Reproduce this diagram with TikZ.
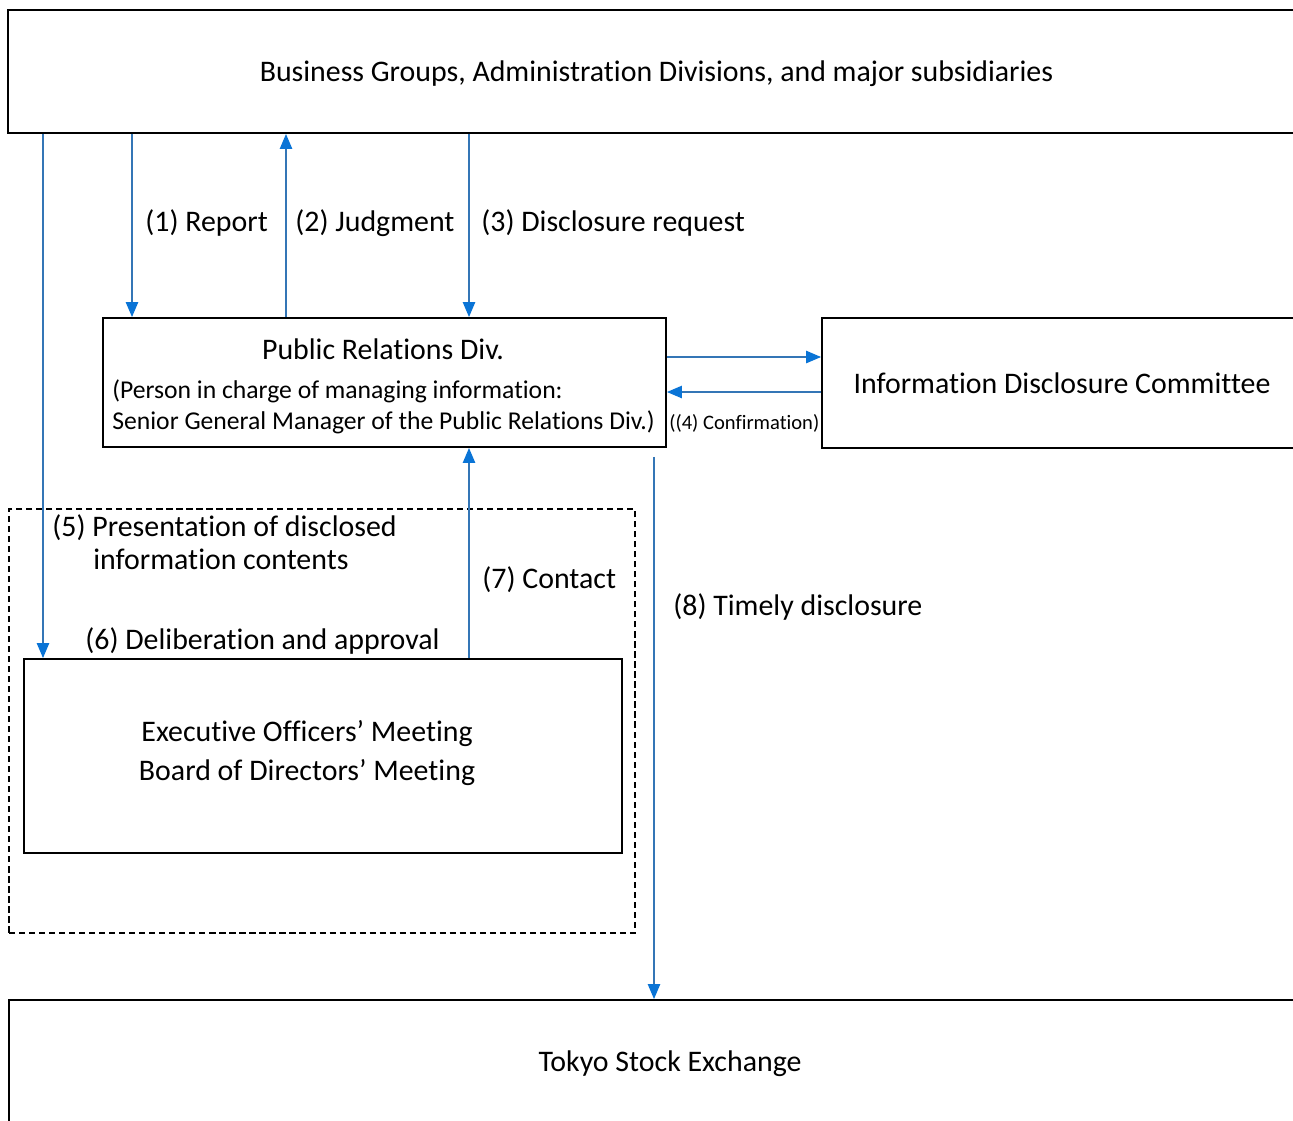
\documentclass[tikz,border=0pt]{standalone}
\usepackage{fontspec}
\setmainfont{Carlito}[Ligatures=NoCommon]
\usetikzlibrary{arrows.meta}
\definecolor{flowline}{RGB}{52,118,182}
\definecolor{flowtip}{RGB}{10,116,214}
\tikzset{
  box/.style={draw=black, line width=1.1pt, inner sep=0pt, font=\fontsize{17}{20.4}\selectfont},
  grp/.style={draw=black, line width=1.1pt, dash pattern=on 3.5pt off 2.2pt, inner sep=0pt},
  flow/.style={draw=flowline, line width=0.8pt, -{Triangle[length=8.5pt,width=7pt,color=flowtip]}},
  lbl/.style={font=\fontsize{17}{20.4}\selectfont, inner sep=0pt, anchor=west},
}
\begin{document}
\begin{tikzpicture}[x=0.02cm, y=-0.02cm]
    \useasboundingbox (0,0) rectangle (1293,1120);
    \clip (0,0) rectangle (1293,1120);
    % Boxes
    \node[box, minimum width=25.94cm, minimum height=2.46cm, text depth=0pt] (bg) at (656.5,71.5) {Business Groups, Administration Divisions, and major subsidiaries};
    \node[box, minimum width=11.26cm, minimum height=2.58cm] (pr) at (384.5,382.5) {};
    \node[box, minimum width=9.6cm, minimum height=2.6cm] (idc) at (1062,383) {Information Disclosure Committee};
    \node[grp, minimum width=12.52cm, minimum height=8.48cm] (meet) at (322,721) {};
    \node[box, minimum width=11.96cm, minimum height=3.88cm] (exec) at (323,756) {};
    \node[box, minimum width=26.44cm, minimum height=2.56cm] (tse) at (670,1064) {Tokyo Stock Exchange};
    % Texts inside boxes
    \node[lbl, anchor=center] (prtitle) at (383,349) {Public Relations Div.};
    \node[lbl, align=left, font=\fontsize{14.6}{17.6}\selectfont] (prnote) at (112,407) {(Person in charge of managing information:\\Senior General Manager of the Public Relations Div.)};
    \node[lbl, anchor=center, align=center, font=\fontsize{17}{22}\selectfont] (exectext) at (307,753) {Executive Officers’ Meeting\\Board of Directors’ Meeting};
    % Arrows
    \draw[flow] (bg.south -| 132,0) -- (pr.north -| 132,0);
    \draw[flow] (pr.north -| 286,0) -- (bg.south -| 286,0);
    \draw[flow] (bg.south -| 469,0) -- (pr.north -| 469,0);
    \draw[flow] (pr.east |- 0,357) -- (idc.west |- 0,357);
    \draw[flow] (idc.west |- 0,392) -- (pr.east |- 0,392);
    \draw[flow] (bg.south -| 43,0) -- (exec.north -| 43,0);
    \draw[flow] (exec.north -| 469,0) -- (pr.south -| 469,0);
    \draw[flow, shorten <=5pt] (pr.south -| 654,0) -- (tse.north -| 654,0);
    % Labels
    \node[lbl] (rep) at (145,223) {(1) Report};
    \node[lbl] (jud) at (295,223) {(2) Judgment};
    \node[lbl] (dreq) at (481,223) {(3) Disclosure request};
    \node[lbl, font=\fontsize{11.7}{14}\selectfont] (conf) at (669,423) {((4) Confirmation)};
    \node[lbl] (pres) at (52,528) {(5) Presentation of disclosed};
    \node[lbl] (presb) at (93,559) {information contents};
    \node[lbl] (delib) at (85,641) {(6) Deliberation and approval};
    \node[lbl] (cont) at (482,580) {(7) Contact};
    \node[lbl] (timely) at (673,607) {(8) Timely disclosure};
\end{tikzpicture}
\end{document}
